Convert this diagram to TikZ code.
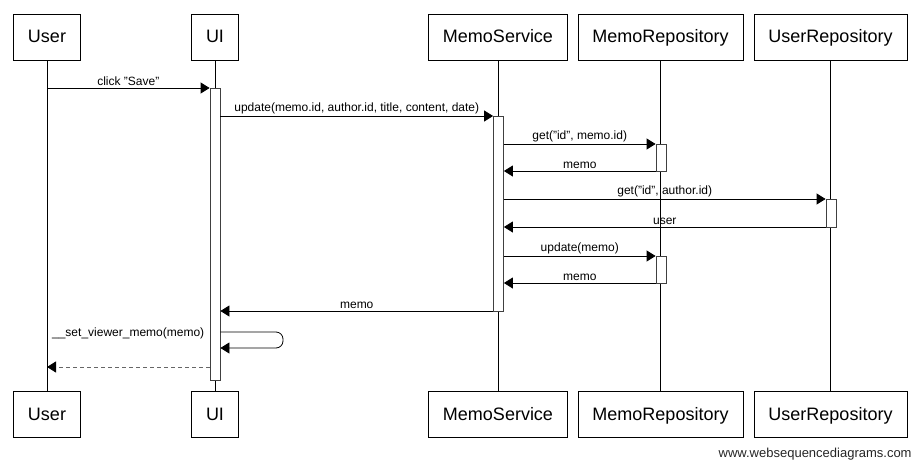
\documentclass[tikz,border=0pt]{standalone}
\usepackage{fontspec}
\setmainfont{Liberation Sans}
\usetikzlibrary{arrows.meta}

\begin{document}
\begin{tikzpicture}[x=1pt, y=-1pt, line width=0.8pt,
    actor/.style={rectangle, draw=black, minimum height=46pt, inner xsep=14.5pt, text height=13pt, text depth=2pt, font=\fontsize{18}{20}\selectfont},
    actbar/.style={rectangle, draw=black!75, fill=white, minimum width=10pt, inner sep=0pt},
    msg/.style={-{Triangle[length=9pt,width=11pt]}},
    retmsg/.style={-{Triangle[length=9pt,width=11pt,color=black]}, draw=black!60, dash pattern=on 4pt off 3pt},
    lbl/.style={above, inner sep=1.5pt, font=\fontsize{12}{14}\selectfont}]

    \useasboundingbox (0,0) rectangle (921,469);

	\pgfmathsetmacro{\xuser}{47}
	\pgfmathsetmacro{\xui}{215}
    \pgfmathsetmacro{\xsvc}{498}
    \pgfmathsetmacro{\xmrepo}{660.5}
    \pgfmathsetmacro{\xurepo}{830.5}
    \pgfmathsetmacro{\ytop}{37}
    \pgfmathsetmacro{\ybot}{414.5}

    %Participants on top
    \draw (\xuser, \ytop) node[actor] (usertop) {User};
    \draw (\xui, \ytop) node[actor] (uitop) {UI};
    \draw (\xsvc, \ytop) node[actor] (svctop) {MemoService};
    \draw (\xmrepo, \ytop) node[actor] (mrepotop) {MemoRepository};
    \draw (\xurepo, \ytop) node[actor] (urepotop) {UserRepository};

    %Participants at the bottom
    \draw (\xuser, \ybot) node[actor] (userbot) {User};
    \draw (\xui, \ybot) node[actor] (uibot) {UI};
    \draw (\xsvc, \ybot) node[actor] (svcbot) {MemoService};
    \draw (\xmrepo, \ybot) node[actor] (mrepobot) {MemoRepository};
    \draw (\xurepo, \ybot) node[actor] (urepobot) {UserRepository};

    %Lifelines
    \draw (usertop)--(userbot);
    \draw (uitop)--(uibot);
    \draw (svctop)--(svcbot);
    \draw (mrepotop)--(mrepobot);
    \draw (urepotop)--(urepobot);

    %Activation bars
	\draw (\xui, 234) node[actbar, minimum height=292pt] (uibar) {};
	\draw (\xsvc+0.5, 213.5) node[actbar, minimum height=195pt] (svcbar) {};
	\draw (\xmrepo+0.5, 157.5) node[actbar, minimum height=27pt] (mrepobarone) {};
	\draw (\xurepo+0.5, 213) node[actbar, minimum height=28pt] (urepobar) {};
	\draw (\xmrepo+0.5, 269.5) node[actbar, minimum height=27pt] (mrepobartwo) {};

    %Messages
    \draw[msg] (usertop |- 0,88)--(uibar.west |- 0,88) node[lbl, midway] (msgsave) {click "Save"};
    \draw[msg] (uibar.east |- 0,116)--(svcbar.west |- 0,116) node[lbl, midway] (msgupdate) {update(memo.id, author.id, title, content, date)};
    \draw[msg] (svcbar.east |- 0,144)--(mrepobarone.west |- 0,144) node[lbl, midway] (msgget) {get("id", memo.id)};
    \draw[msg] (mrepobarone.west |- 0,171)--(svcbar.east |- 0,171) node[lbl, midway] (msgmemoone) {memo};
    \draw[msg] (svcbar.east |- 0,199)--(urepobar.west |- 0,199) node[lbl, midway] (msggetuser) {get("id", author.id)};
    \draw[msg] (urepobar.west |- 0,227)--(svcbar.east |- 0,227) node[lbl, midway] (msguser) {user};
    \draw[msg] (svcbar.east |- 0,256)--(mrepobartwo.west |- 0,256) node[lbl, midway] (msgupmemo) {update(memo)};
    \draw[msg] (mrepobartwo.west |- 0,283)--(svcbar.east |- 0,283) node[lbl, midway] (msgmemotwo) {memo};
    \draw[msg] (svcbar.west |- 0,311)--(uibar.east |- 0,311) node[lbl, midway] (msgmemothree) {memo};

    %Self call and return to the user
    \draw[msg, rounded corners=7pt] (uibar.east |- 0,332) -| (283,348) -- (uibar.east |- 0,348);
    \draw (uibar.west |- 0,333) node[left, inner sep=5pt, font=\fontsize{12}{14}\selectfont] (msgself) {\_\_set\_viewer\_memo(memo)};
    \draw[retmsg] (uibar.west |- 0,367)--(usertop |- 0,367);

	\draw (912,454) node[anchor=east, inner sep=0pt, text=black!85, font=\fontsize{13}{15}\selectfont] (footer) {www.websequencediagrams.com};

\end{tikzpicture}
\end{document}
